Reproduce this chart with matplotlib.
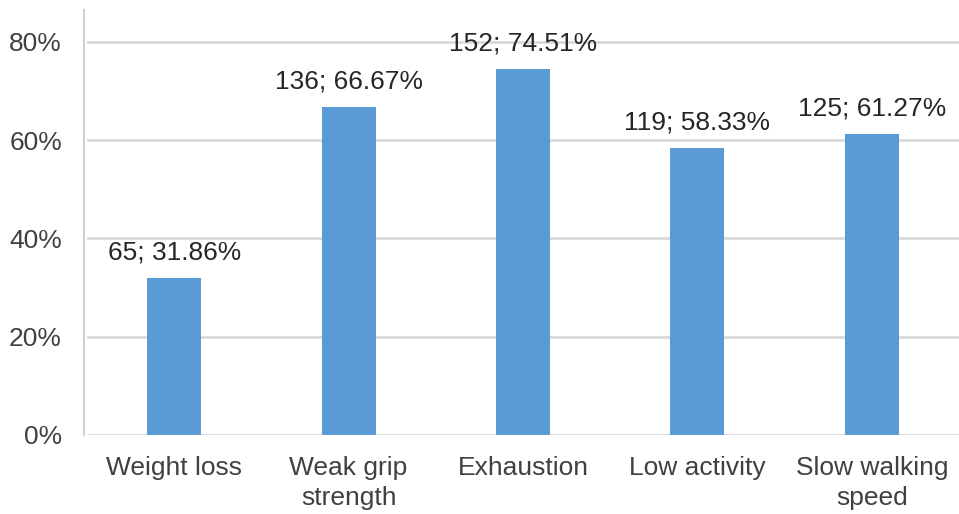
import matplotlib.pyplot as plt
import matplotlib.ticker as mtick

plt.rcParams["font.family"] = ["Liberation Sans", "DejaVu Sans"]

categories = ["Weight loss", "Weak grip\nstrength", "Exhaustion", "Low activity", "Slow walking\nspeed"]
counts = [65, 136, 152, 119, 125]
percents = [31.86, 66.67, 74.51, 58.33, 61.27]

fig = plt.figure(figsize=(9.59, 5.14), dpi=100)
ax = fig.add_axes([0.0907, 0.1537, 0.9093, 0.8268])

x = range(len(categories))
ax.bar(x, [p / 100 for p in percents], width=0.31, color="#5B9BD5", zorder=3)

for i, (c, p) in enumerate(zip(counts, percents)):
    ax.annotate(f"{c}; {p:.2f}%", (i, p / 100), xytext=(0, 10), textcoords="offset points",
                ha="center", va="bottom", fontsize=19, color="#262626")

ax.set_xlim(-0.5, len(categories) - 0.5)
ax.set_ylim(0, 0.865)
ax.set_yticks([0, 0.2, 0.4, 0.6, 0.8])
ax.yaxis.set_major_formatter(mtick.PercentFormatter(1.0, decimals=0))
ax.set_xticks(list(x))
ax.set_xticklabels(categories, linespacing=1.35)

ax.grid(axis="y", color="#D9D9D9", linewidth=2, zorder=0)
for s in ["top", "right", "bottom"]:
    ax.spines[s].set_visible(False)
ax.spines["left"].set_color("#D0D0D0")
ax.spines["left"].set_linewidth(1.5)
ax.spines["left"].set_position(("outward", 2))

ax.tick_params(axis="y", length=0, pad=16, labelsize=19, labelcolor="#404040")
ax.tick_params(axis="x", length=0, pad=15, labelsize=19, labelcolor="#404040")

fig.savefig("out.png", dpi=100)
